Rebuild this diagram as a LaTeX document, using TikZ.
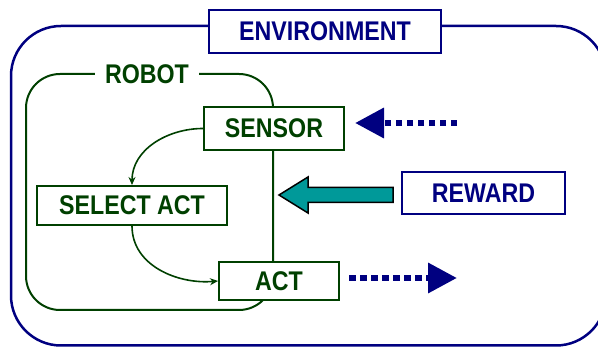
\documentclass[tikz,border=0pt]{standalone}
\usepackage{fontspec}
\setmainfont{Liberation Sans}[FakeStretch=0.86]
\usetikzlibrary{arrows.meta}
\definecolor{envblue}{RGB}{0,0,128}
\definecolor{robgreen}{RGB}{0,64,0}
\definecolor{rewteal}{RGB}{0,153,153}
\begin{document}
\begin{tikzpicture}[x=1pt,y=-1pt,
  lbl/.style={font=\fontsize{27}{27}\selectfont\bfseries, inner sep=0pt, fill=white, line width=2pt},
  envbox/.style={lbl, draw=envblue, text=envblue},
  robbox/.style={lbl, draw=robgreen, text=robgreen},
  flow/.style={robgreen, line width=1.6pt, -{Stealth[length=8pt,width=7pt]}},
  dotarrow/.style={envblue, line width=6.5pt, dash pattern=on 6.5pt off 4.5pt, -{Triangle[length=29pt,width=29pt]}}]
\useasboundingbox (0,0) rectangle (598,347);
\clip (0,0) rectangle (598,347);
% environment frame
\draw[envblue, line width=2.5pt, rounded corners=50pt] (11,26) rectangle (606,345.5);
% robot frame
\draw[robgreen, line width=2pt, rounded corners=34pt] (26,74) rectangle (273,310);
% nodes
\node[envbox, minimum width=232pt, minimum height=43pt] (env) at (325,31.5) {ENVIRONMENT};
\node[lbl, text=robgreen, inner xsep=10pt, inner ysep=3pt] (robot) at (147,74) {ROBOT};
\node[robbox, minimum width=140pt, minimum height=43pt] (sensor) at (274,128.5) {SENSOR};
\node[robbox, minimum width=190pt, minimum height=39pt] (select) at (132,205.5) {SELECT ACT};
\node[robbox, minimum width=120pt, minimum height=38pt] (act) at (279,281) {ACT};
\node[envbox, minimum width=163pt, minimum height=42pt] (reward) at (483.5,193) {REWARD};
% internal flow
\draw[flow] (sensor.west) to[out=180,in=90] (select.north);
\draw[flow] (select.south) to[out=-90,in=185] (act.west);
% dotted arrows
\coordinate (insrc) at (457,123);
\coordinate (intip) at (355,123);
\draw[dotarrow] (insrc) -- (intip);
\coordinate (outsrc) at (349,278);
\coordinate (outtip) at (457,278);
\draw[dotarrow] (outsrc) -- (outtip);
% reward arrow
\draw[fill=rewteal, draw=black, line width=1.5pt, line join=miter]
  (279,195) -- (308,177) -- (308,187.5) -- (393,187.5) -- (393,202.5) -- (308,202.5) -- (308,213) -- cycle;
\end{tikzpicture}
\end{document}
